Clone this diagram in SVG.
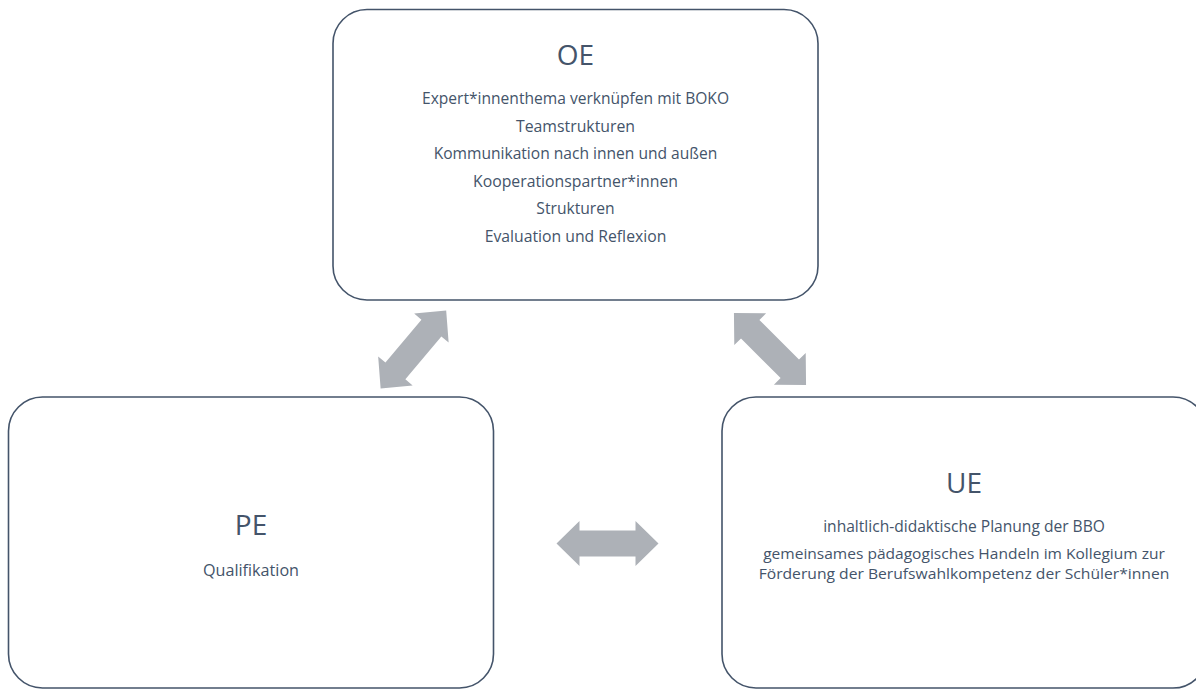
<svg xmlns="http://www.w3.org/2000/svg" width="1196" height="689" viewBox="0 0 1196 689">
<defs>
<style>
.box{fill:#ffffff;stroke:#44546A;stroke-width:1.6}
.t{font-family:"Open Sans","Noto Sans",sans-serif;fill:#44546A;text-anchor:middle}
.h{font-size:28px}
.b{font-size:16px}
.s{font-size:14.8px}
.arr{fill:#ADB1B7}
</style>
<polygon id="dblarrow" points="-51,0 -28,-22.5 -28,-13 28,-13 28,-22.5 51,0 28,22.5 28,13 -28,13 -28,22.5"/>
</defs>
<rect width="1196" height="689" fill="#ffffff"/>
<g id="connectors">
<use href="#dblarrow" class="arr" transform="translate(413.4,349.5) rotate(-50)"/>
<use href="#dblarrow" class="arr" transform="translate(770,349) rotate(45)"/>
<use href="#dblarrow" class="arr" transform="translate(607.5,543.5)"/>
</g>
<g id="OE">
<rect class="box" x="333" y="9.5" width="485" height="290.5" rx="34"/>
<text class="t h" x="575.5" y="65">OE</text>
<text class="t b" x="575.5" y="104.3" textLength="307" lengthAdjust="spacingAndGlyphs">Expert*innenthema verknüpfen mit BOKO</text>
<text class="t b" x="575.5" y="131.7" textLength="119" lengthAdjust="spacingAndGlyphs">Teamstrukturen</text>
<text class="t b" x="575.5" y="159.2" textLength="283.7" lengthAdjust="spacingAndGlyphs">Kommunikation nach innen und außen</text>
<text class="t b" x="575.5" y="186.7" textLength="205" lengthAdjust="spacingAndGlyphs">Kooperationspartner*innen</text>
<text class="t b" x="575.5" y="214" textLength="78.3" lengthAdjust="spacingAndGlyphs">Strukturen</text>
<text class="t b" x="575.5" y="241.6" textLength="181.7" lengthAdjust="spacingAndGlyphs">Evaluation und Reflexion</text>
</g>
<g id="PE">
<rect class="box" x="8.5" y="397" width="485" height="291" rx="34"/>
<text class="t h" x="251" y="535">PE</text>
<text class="t b" x="251" y="576" textLength="96" lengthAdjust="spacingAndGlyphs">Qualifikation</text>
</g>
<g id="UE">
<rect class="box" x="722" y="397" width="485" height="291" rx="34"/>
<text class="t h" x="964" y="493.3">UE</text>
<text class="t b" x="964" y="531.7" textLength="281.7" lengthAdjust="spacingAndGlyphs">inhaltlich-didaktische Planung der BBO</text>
<text class="t s" x="964" y="559" textLength="401.7" lengthAdjust="spacingAndGlyphs">gemeinsames pädagogisches Handeln im Kollegium zur</text>
<text class="t s" x="964" y="579.3" textLength="410.7" lengthAdjust="spacingAndGlyphs">Förderung der Berufswahlkompetenz der Schüler*innen</text>
</g>
</svg>
